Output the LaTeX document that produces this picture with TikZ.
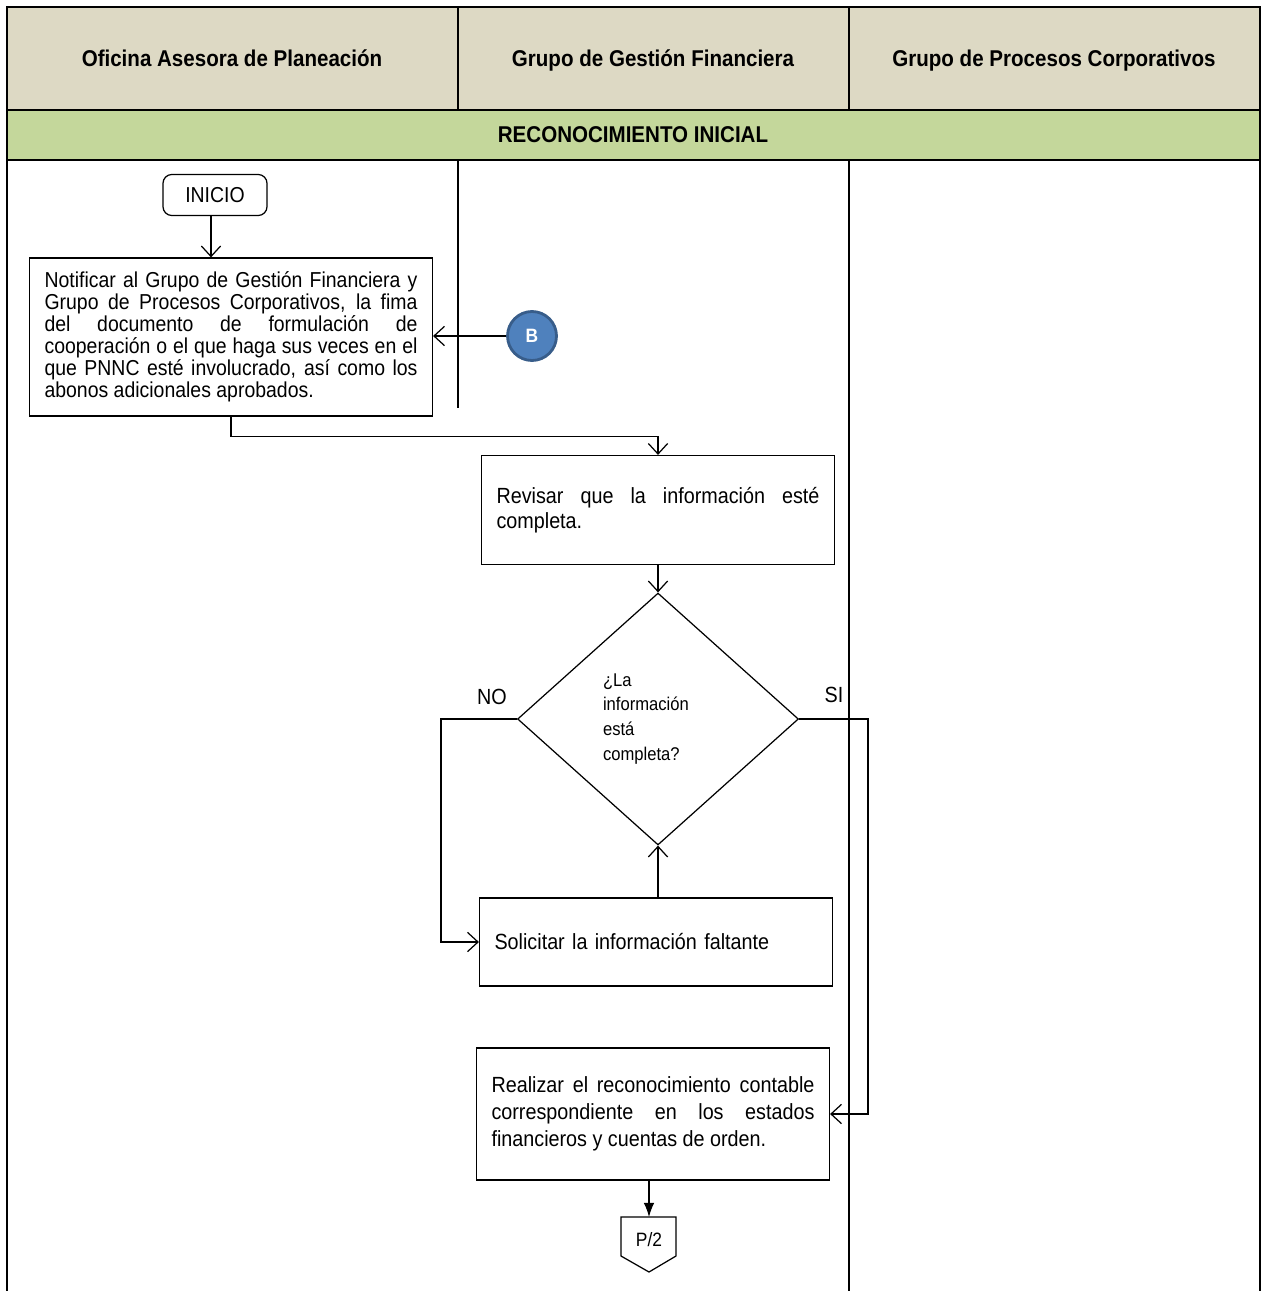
\documentclass[tikz,border=0pt]{standalone}
\usepackage{fontspec}
\setmainfont{Liberation Sans}[FakeStretch=0.9]
\usetikzlibrary{shapes.geometric,arrows.meta,positioning}
\hyphenpenalty=10000
\exhyphenpenalty=10000
\tolerance=9999

\definecolor{cabecera}{HTML}{DDD9C4}
\definecolor{etapa}{HTML}{C4D79B}
\definecolor{conector}{HTML}{4F81BD}
\definecolor{conectorborde}{HTML}{385D8A}

\tikzset{
  marco/.style={line width=1.1pt},
  titulo/.style={font=\fontsize{13}{15}\selectfont\bfseries, anchor=base},
  caja/.style={draw, line width=0.7pt, align=justify, inner xsep=0.3cm,
    text width=6.46cm, font=\fontsize{12.5}{14.2}\selectfont},
  inicio/.style={draw, line width=0.7pt, rounded corners=5pt, minimum width=2.08cm,
    minimum height=0.82cm, font=\fontsize{12.3}{14}\selectfont},
  decision/.style={draw, diamond, line width=0.7pt, minimum width=5.62cm,
    minimum height=5.04cm, inner sep=0pt, text width=2.2cm, align=left,
    font=\fontsize{10.5}{14.2}\selectfont},
  flecha/.style={line width=0.7pt, -{Straight Barb[length=6pt,width=11pt]}},
  etiqueta/.style={font=\fontsize{12.5}{14}\selectfont}
}

\begin{document}
\begin{tikzpicture}[x=0.02cm, y=-0.02cm]
\useasboundingbox (0,0) rectangle (1262,1291);

% encabezado de carriles
\fill[cabecera] (7,7) rectangle (1260,110);
\fill[etapa] (7,110) rectangle (1260,160);
\draw[marco] (7,1291) -- (7,7) -- (1260,7) -- (1260,1291);
\draw[marco] (7,110) -- (1260,110);
\draw[marco] (7,160) -- (1260,160);
\draw[marco] (458,7) -- (458,110);
\draw[marco] (458,160) -- (458,408);
\draw[marco] (849,7) -- (849,110);
\draw[marco] (849,160) -- (849,1291);

\node[titulo] (oap) at (232,67) {Oficina Asesora de Planeación};
\node[titulo] (ggf) at (653,67) {Grupo de Gestión Financiera};
\node[titulo] (gpc) at (1054,67) {Grupo de Procesos Corporativos};
\node[titulo] (fase) at (633,142) {RECONOCIMIENTO INICIAL};

% actividades
\node[inicio] (inicio) at (215,195) {INICIO};
\node[caja, text width=7.46cm, minimum height=3.16cm,
  font=\fontsize{12.3}{12.5}\selectfont] (notif) at (231,337)
  {Notificar al Grupo de Gestión Financiera y\linebreak
   Grupo de Procesos Corporativos, la fima\linebreak
   del documento de formulación de\linebreak
   cooperación o el que haga sus veces en el\linebreak
   que PNNC esté involucrado, así como los\linebreak
   abonos adicionales aprobados.};
\node[circle, fill=conector, draw=conectorborde, line width=1.6pt, minimum size=0.98cm,
  inner sep=0pt, text=white, font=\fontsize{11}{13}\selectfont\bfseries] (b) at (532,336) {B};

\node[caja, minimum height=2.18cm] (revisar) at (658,510)
  {Revisar que la información esté completa.};
\node[decision] (dec) at (658,719) {¿La\\ información\\ está\\ completa?};
\node[caja, align=left, minimum height=1.76cm] (solic) at (656,942)
  {Solicitar la información faltante};
\node[caja, minimum height=2.64cm, font=\fontsize{12.5}{15.3}\selectfont] (realiz) at (653,1114)
  {Realizar el reconocimiento contable correspondiente en los estados financieros y cuentas de orden.};

% conector de pagina
\draw[line width=0.7pt] (621,1217) -- (676,1217) -- (676,1256) -- (649,1272)
  -- (621,1256) -- cycle;
\node[font=\fontsize{11}{13}\selectfont] (p2) at (649,1240) {P/2};
\coordinate (p2top) at (649,1217);

\node[etiqueta] (no) at (492,697) {NO};
\node[etiqueta] (si) at (834,695) {SI};

% flujo
\draw[flecha] (inicio.south -| 211,0) -- (211,0 |- notif.north);
\draw[flecha] (b.west) -- (b.west -| notif.east);
\draw[flecha] (notif.south) -- ++(0,20) -| (revisar.north);
\draw[flecha] (revisar.south) -- (dec.north);
\draw[flecha] (dec.west) -- ++(-76,0) |- (solic.west);
\draw[flecha] (dec.south |- solic.north) -- (dec.south);
\draw[flecha] (dec.east) -- ++(69,0) |- (realiz.east);
\draw[line width=0.7pt, -{Latex[length=8pt,width=6pt]}] (p2top |- realiz.south) -- (p2top);
\end{tikzpicture}
\end{document}
